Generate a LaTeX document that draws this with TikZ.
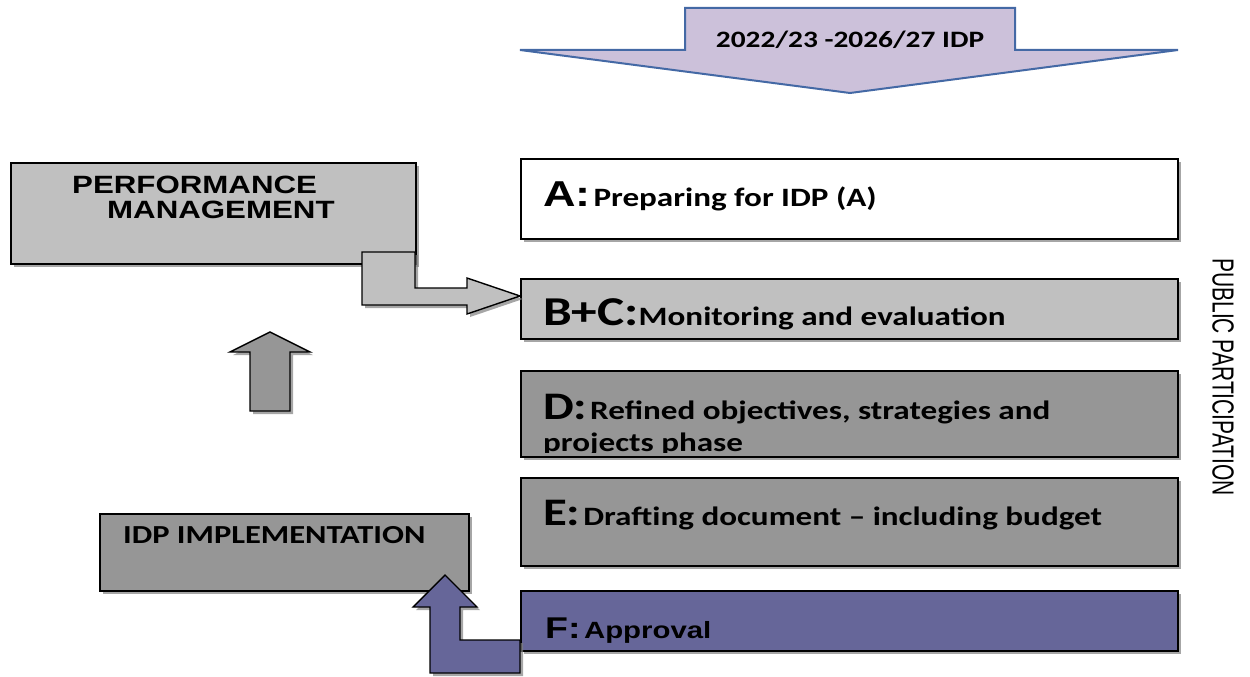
\documentclass[tikz,border=0pt]{standalone}
\usepackage{fontspec}
\setmainfont{Carlito}[FakeStretch=1.25]
\newfontfamily\arialfont{Liberation Sans}[FakeStretch=1.25]
\newfontfamily\arialplain{Liberation Sans}
\usetikzlibrary{shadows}

\definecolor{idplilac}{RGB}{204,193,218}
\definecolor{idpblue}{RGB}{68,105,165}
\definecolor{lightbox}{RGB}{192,192,192}
\definecolor{darkbox}{RGB}{150,150,150}
\definecolor{approvebox}{RGB}{102,102,153}

\newcommand{\fsz}[1]{\fontsize{#1}{#1}\selectfont}

\begin{document}
\begin{tikzpicture}[x=1pt, y=-1pt,
    box/.style={draw=black, line width=1.8pt, anchor=north west, inner sep=0pt,
                drop shadow={shadow xshift=3pt, shadow yshift=-3pt, fill=black!50, opacity=.7}},
    phase/.style={box, minimum width=657pt},
    txt/.style={anchor=base west, inner sep=0pt, align=left, font=\bfseries},
    blockarrow/.style={draw=black, line width=1.4pt, line join=miter,
                drop shadow={shadow xshift=3pt, shadow yshift=-3pt, fill=black!50, opacity=.7}}
]
    \useasboundingbox (0,0) rectangle (1250,677);

    % plan period arrow on top
    \draw[fill=idplilac, draw=idpblue, line width=2pt, line join=miter]
        (685,8) -- (1015,8) -- (1015,50) -- (1178,50) -- (850,93)
        -- (520,50) -- (685,50) -- cycle;
    \node[anchor=base, inner sep=0pt, font=\bfseries\fsz{23.5}] (period) at (850,48) {2022/23 -2026/27 IDP};

    % phases
    \node[phase, fill=white, minimum height=80pt] (a) at (520,158) {};
    \node[phase, fill=lightbox, minimum height=60pt] (bc) at (520,278) {};
    \node[phase, fill=darkbox, minimum height=86pt] (d) at (520,370) {};
    \node[phase, fill=darkbox, minimum height=88pt] (e) at (520,477) {};
    \node[phase, fill=approvebox, minimum height=60pt] (f) at (520,590) {};

    \node[txt] (ta) at (543,206) {{\arialfont\fsz{36}A:} \fsz{26.5}Preparing for IDP (A)};
    \node[txt] (tbc) at (543,325) {{\fsz{41}B+C:}\fsz{26.5}Monitoring and evaluation};
    \begin{scope}
        \clip (520,370) rectangle (1177,452);
        \node[txt] (td) at (543,451) {{\fsz{39}D:} \fsz{26.5}Refined objectives, strategies and\\[7.5pt]
            \fsz{26.5}projects phase};
    \end{scope}
    \node[txt] (te) at (543,525) {{\fsz{39}E:} \fsz{26.5}Drafting document -- including budget};
    \node[txt, font=\arialfont\bfseries] (tf) at (545,638) {{\fsz{30}F:} \fsz{23.5}Approval};

    % side boxes
    \node[box, fill=lightbox, minimum width=405pt, minimum height=101pt] (pm) at (10,162) {};
    \node[txt, font=\arialfont\bfseries\fsz{25}] (tpm) at (72,218) {PERFORMANCE\\\hspace*{35pt}MANAGEMENT};
    \node[box, fill=darkbox, minimum width=369pt, minimum height=77pt] (impl) at (99,513) {};
    \node[txt, font=\bfseries\fsz{26}] (timpl) at (123,543) {IDP IMPLEMENTATION};

    % block arrows
    \draw[blockarrow, fill=lightbox]
        (362,252) -- (415,252) -- (415,288) -- (467,288) -- (467,278) -- (520,296)
        -- (467,314) -- (467,305) -- (362,305) -- cycle;
    \draw[blockarrow, fill=darkbox]
        (270,332) -- (310,352) -- (290,352) -- (290,411) -- (250,411) -- (250,352)
        -- (230,352) -- cycle;
    \draw[blockarrow, fill=approvebox]
        (520,640) -- (460,640) -- (460,607) -- (477,607) -- (445,575) -- (413,607)
        -- (430,607) -- (430,673) -- (520,673) -- cycle;

    % vertical side label
    \node[rotate=-90, inner sep=0pt, font=\arialplain\fsz{21}] (public) at (1223,377)
        {\scalebox{1}[1.45]{PUBLIC PARTICIPATION}};
\end{tikzpicture}
\end{document}
